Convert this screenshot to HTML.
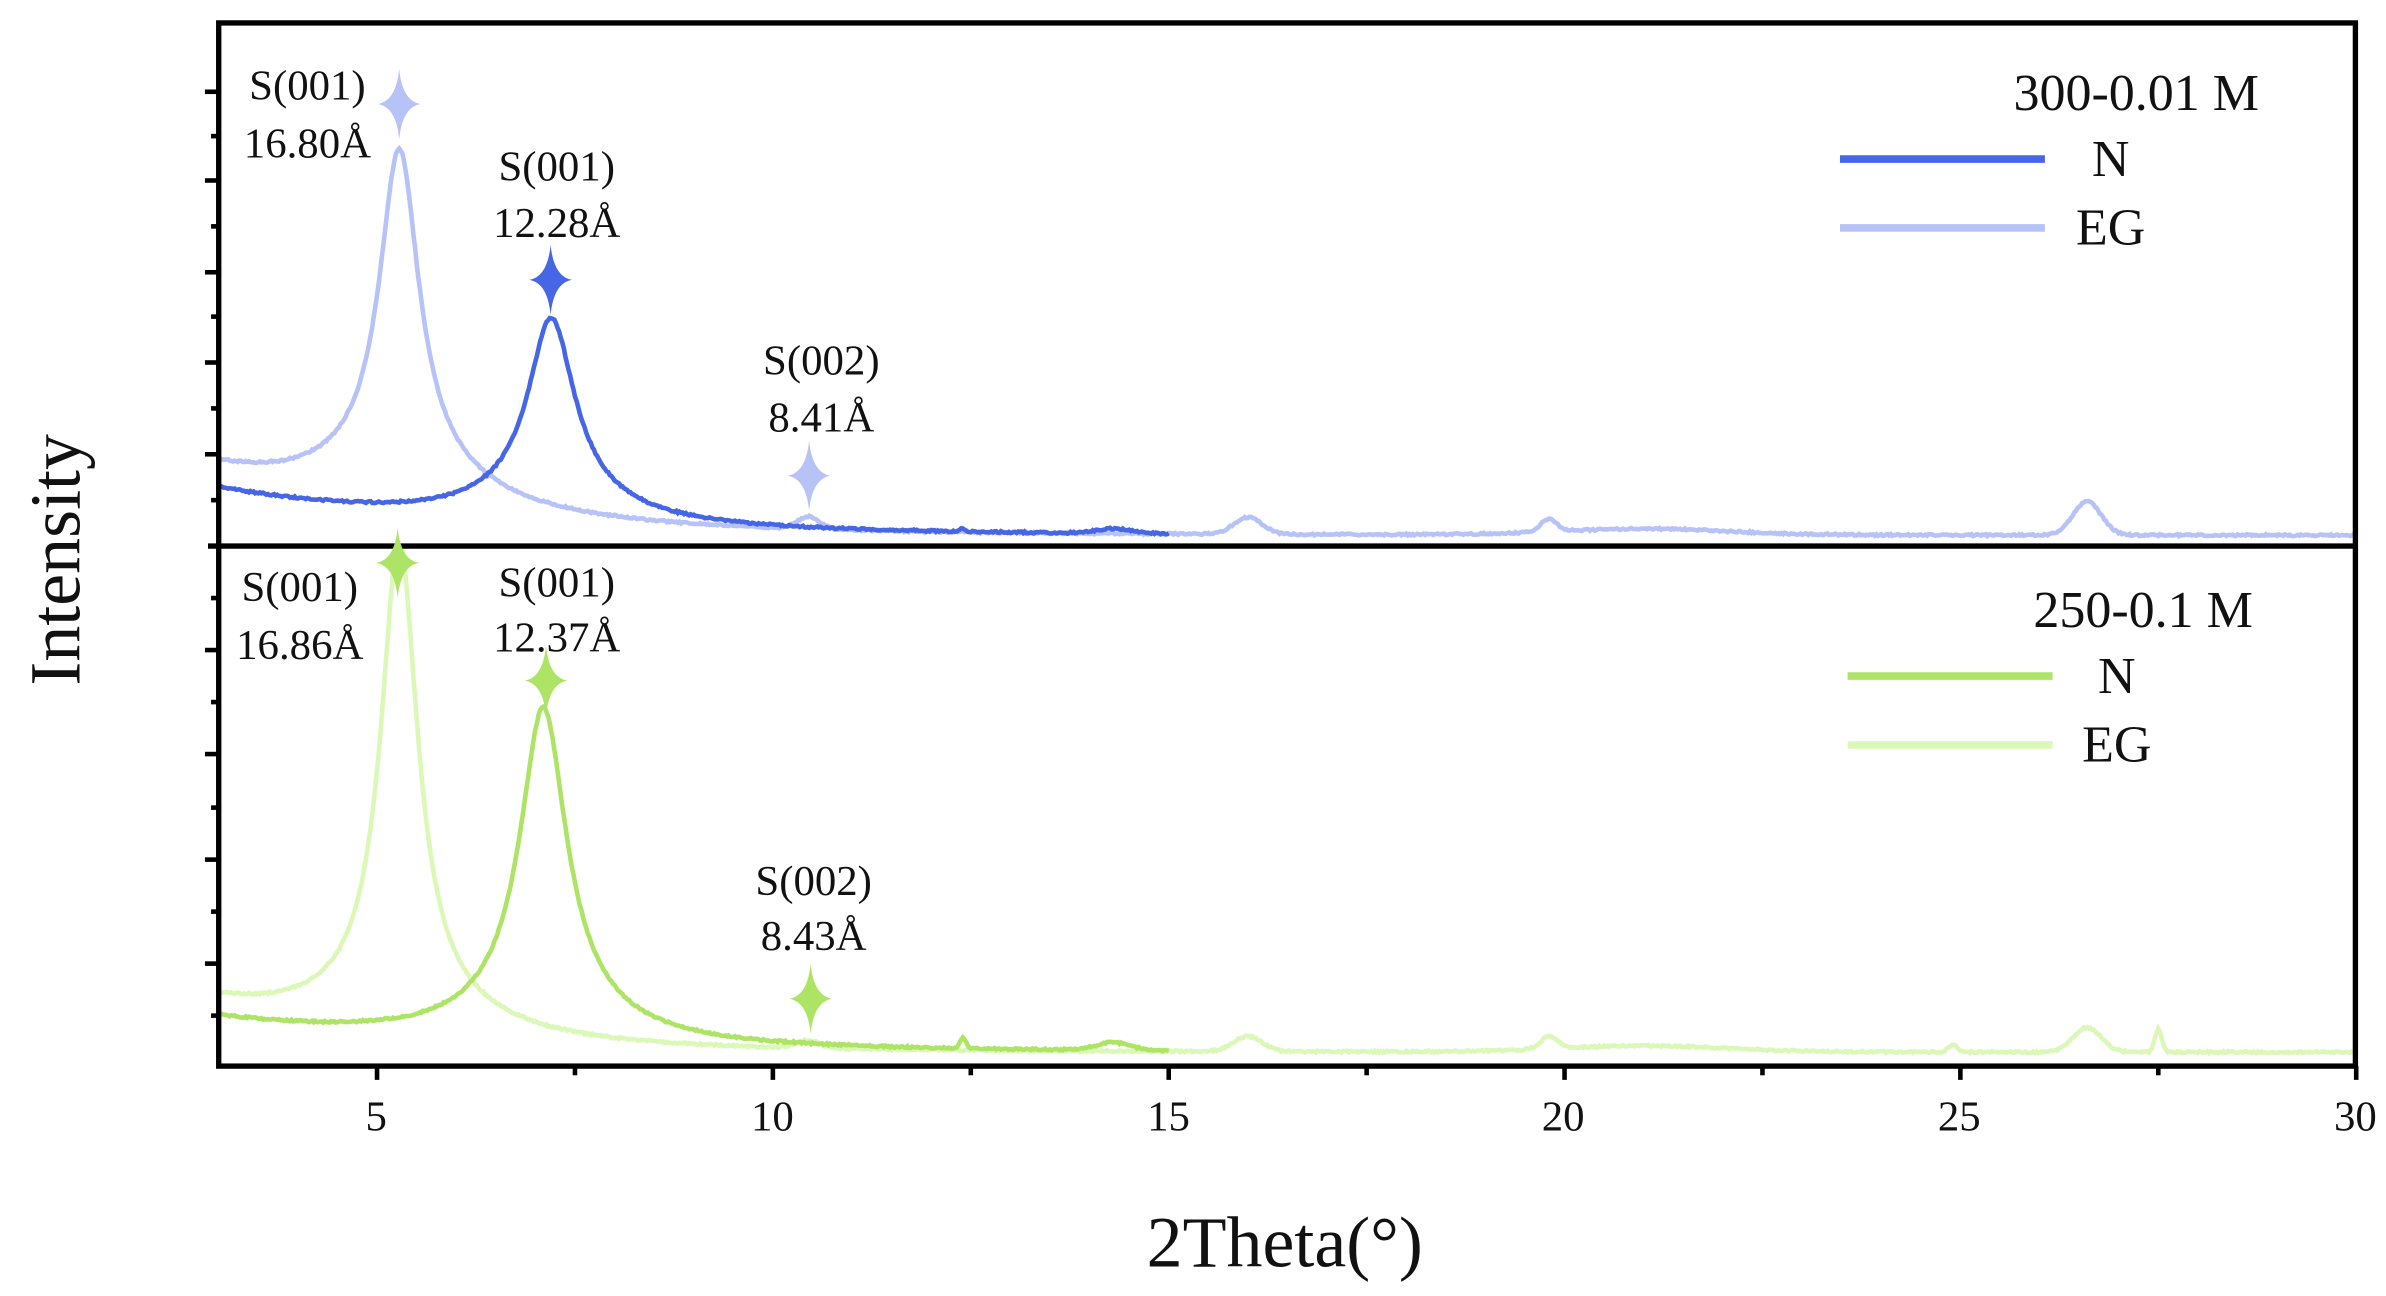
<!DOCTYPE html>
<html><head><meta charset="utf-8"><style>
html,body{margin:0;padding:0;background:#fff;}
svg{display:block;}
text{font-family:"Liberation Serif",serif;fill:#111;}
</style></head><body>
<svg id="s" width="2386" height="1296" viewBox="0 0 1560 847.3" preserveAspectRatio="none" xmlns="http://www.w3.org/2000/svg">
<rect width="1560" height="848" fill="#fff"/>
<defs>
<clipPath id="ct"><rect x="143" y="15" width="1397" height="342"/></clipPath>
<clipPath id="cb"><rect x="143" y="357" width="1397" height="340"/></clipPath>
<path id="star" d="M0,-23 Q2,-2 14,0 Q2,2 0,23 Q-2,2 -14,0 Q-2,-2 0,-23Z"/>
</defs>
<g clip-path="url(#ct)">
<path id="teg" fill="none" stroke="#b7c3f6" stroke-width="3"/>
<path id="tn" fill="none" stroke="#4766e6" stroke-width="3"/>
</g>
<g clip-path="url(#cb)">
<path id="beg" fill="none" stroke="#dcf8b8" stroke-width="3"/>
<path id="bn" fill="none" stroke="#aee466" stroke-width="3"/>
</g>
<g id="ticks" stroke="#000" stroke-width="3"></g>
<rect x="143" y="15" width="1397" height="682" fill="none" stroke="#000" stroke-width="3.5"/>
<line x1="136" y1="357" x2="1540" y2="357" stroke="#000" stroke-width="3.5"/>
<use href="#star" x="261" y="68" fill="#b7c3f6"/>
<use href="#star" x="360" y="183" fill="#4766e6"/>
<use href="#star" x="529" y="311" fill="#b7c3f6"/>
<use href="#star" x="260" y="368" fill="#aee466"/>
<use href="#star" x="357" y="445" fill="#aee466"/>
<use href="#star" x="530" y="653" fill="#aee466"/>
<g font-size="28" text-anchor="middle">
<text x="201" y="65">S(001)</text><text x="201" y="103">16.80Å</text>
<text x="364" y="118">S(001)</text><text x="364" y="155">12.28Å</text>
<text x="537" y="245">S(002)</text><text x="537" y="282">8.41Å</text>
<text x="196" y="393">S(001)</text><text x="196" y="431">16.86Å</text>
<text x="364" y="390">S(001)</text><text x="364" y="426">12.37Å</text>
<text x="532" y="585">S(002)</text><text x="532" y="621">8.43Å</text>
</g>
<g font-size="34">
<text x="1477" y="72" text-anchor="end">300-0.01 M</text>
<text x="1380" y="115" text-anchor="middle">N</text>
<text x="1380" y="160" text-anchor="middle">EG</text>
<text x="1473" y="410" text-anchor="end">250-0.1 M</text>
<text x="1384" y="453" text-anchor="middle">N</text>
<text x="1384" y="498" text-anchor="middle">EG</text>
</g>
<line x1="1203" y1="104" x2="1337" y2="104" stroke="#4766e6" stroke-width="5"/>
<line x1="1203" y1="149" x2="1337" y2="149" stroke="#b7c3f6" stroke-width="5"/>
<line x1="1208" y1="442" x2="1342" y2="442" stroke="#aee466" stroke-width="5"/>
<line x1="1208" y1="487" x2="1342" y2="487" stroke="#dcf8b8" stroke-width="5"/>
<g font-size="28" text-anchor="middle">
<text x="246" y="739">5</text><text x="505" y="739">10</text><text x="764" y="739">15</text>
<text x="1022" y="739">20</text><text x="1281" y="739">25</text><text x="1540" y="739">30</text>
</g>
<text x="840" y="828" font-size="47" text-anchor="middle">2Theta(°)</text>
<text transform="translate(52,366) rotate(-90)" font-size="47" text-anchor="middle">Intensity</text>
</svg>
<script>
function X(v){return 143+(v-3)*51.76;}
function L(x,x0,A,w){var t=(x-x0)/w;return A/(1+t*t);}
function G(x,x0,h,s){var t=(x-x0)/s;return h*Math.exp(-t*t);}
var seed=1;function rnd(){seed=(seed*16807)%2147483647;return seed/2147483647-0.5;}
function build(id,f,x1,x2){var d="";for(var x=x1;x<=x2+1e-9;x+=0.02){var y=f(x)+rnd()*1.2;d+=(d?"L":"M")+X(x).toFixed(1)+","+y.toFixed(1);}document.getElementById(id).setAttribute("d",d);}
build("teg",function(x){return 350-40*Math.exp(-(x-3)/2.5)-L(x,5.28,207,0.3)-L(x,5.28,30,1.2)-G(x,10.45,8,0.2)-G(x,16,11,0.25)-G(x,19.8,8,0.15)-G(x,21,4,1.5)-G(x,26.6,22,0.25);},3,30);
build("tn",function(x){return 350-30*Math.exp(-(x-3)/3)-L(x,7.2,115,0.35)-L(x,7.2,20,1.0)-G(x,14.3,3,0.3)-G(x,12.4,2,0.05);},3,15);
build("beg",function(x){return 688-30*Math.exp(-(x-3)/2)-L(x,5.28,300,0.28)-L(x,5.28,25,1.2)-G(x,10.45,5,0.2)-G(x,16,10,0.25)-G(x,19.8,8,0.15)-G(x,21,4,1.5)-G(x,24.9,5,0.08)-G(x,26.6,16,0.25)-G(x,27.5,15,0.06);},3,30);
build("bn",function(x){return 688-22*Math.exp(-(x-3)/3)-L(x,7.1,195,0.35)-L(x,7.1,25,1.0)-G(x,12.4,7,0.05)-G(x,14.3,5,0.3);},3,15);
var g=document.getElementById("ticks"),h="";
for(var v=5;v<=30;v+=2.5){var xx=X(v),len=(v%5==0)?9:6;h+='<line x1="'+xx+'" y1="697" x2="'+xx+'" y2="'+(697+len)+'"/>';}
[60,89,118,148,178,207,237,267,297,327].forEach(function(y,i){h+='<line x1="143" y1="'+y+'" x2="'+(i%2==0?134:138)+'" y2="'+y+'"/>';});
[391,425,459,493,528,562,596,630,664].forEach(function(y,i){h+='<line x1="143" y1="'+y+'" x2="'+(i%2==1?134:138)+'" y2="'+y+'"/>';});
g.innerHTML=h;
</script>
</body></html>
